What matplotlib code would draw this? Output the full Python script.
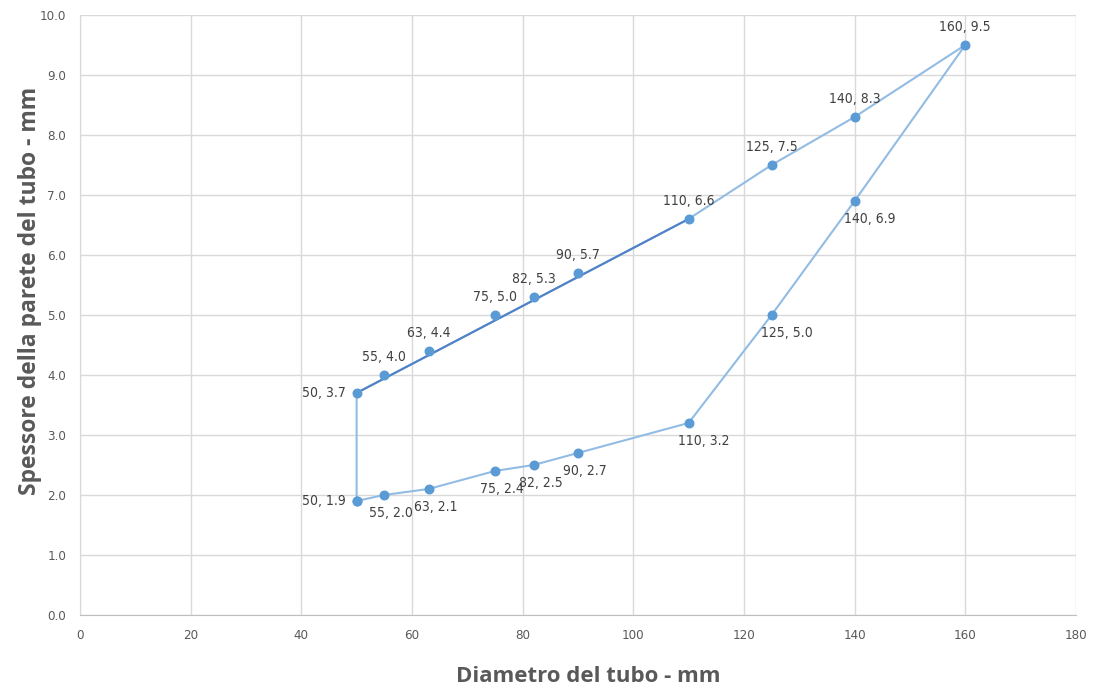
import matplotlib
matplotlib.use("Agg")
import matplotlib.pyplot as plt

# loop through the points: lower curve, then upper curve back to the start
loop_x = [50, 55, 63, 75, 82, 90, 110, 125, 140, 160, 140, 125, 110, 50, 50]
loop_y = [1.9, 2.0, 2.1, 2.4, 2.5, 2.7, 3.2, 5.0, 6.9, 9.5, 8.3, 7.5, 6.6, 3.7, 1.9]

# upper points sitting on the straight segment 50 -> 110
upper_x = [55, 63, 75, 82, 90]
upper_y = [4.0, 4.4, 5.0, 5.3, 5.7]

# labelled points and where the label sits
lab_x = [160, 140, 125, 110, 90, 82, 75, 63, 55, 50,
         50, 55, 63, 75, 82, 90, 110, 125, 140]
lab_y = [9.5, 8.3, 7.5, 6.6, 5.7, 5.3, 5.0, 4.4, 4.0, 3.7,
         1.9, 2.0, 2.1, 2.4, 2.5, 2.7, 3.2, 5.0, 6.9]
lab_pos = ["above"] * 9 + ["left", "left"] + ["below"] * 8

xticks = list(range(0, 181, 20))
yticks = [i * 1.0 for i in range(11)]

LINE = "#92BCE3"
MARK = "#5B9BD5"
DARK = "#4F81C7"
GREY = "#595959"

fig = plt.figure(figsize=(10.94, 6.93), dpi=100)
ax = fig.add_axes([0.0731, 0.1126, 0.9104, 0.8658])

ax.plot(loop_x, loop_y, color=LINE, lw=1.5, zorder=2)
ax.plot([loop_x[13], loop_x[12]], [loop_y[13], loop_y[12]], color=DARK, lw=1.5, zorder=3)
ax.scatter(loop_x, loop_y, s=38, color=MARK, zorder=4)
ax.scatter(upper_x, upper_y, s=38, color=MARK, zorder=4)

offsets = {"above": (0, 8, "center", "bottom"),
           "below": (5, -8, "center", "top"),
           "left": (-8, 0, "right", "center")}
for x, y, p in zip(lab_x, lab_y, lab_pos):
    dx, dy, ha, va = offsets[p]
    if p == "below" and x >= 110:
        dx = 11
    ax.annotate(f"{x}, {y:.1f}", (x, y), xytext=(dx, dy), textcoords="offset points",
                ha=ha, va=va, fontsize=10, color="#404040", family="DejaVu Sans",
                fontstretch="condensed")

ax.set_xlim(0, 180)
ax.set_ylim(0, 10)
ax.set_xticks(xticks)
ax.set_yticks(yticks)
ax.set_yticklabels([f"{t:.1f}" for t in yticks])
ax.tick_params(length=0, labelsize=9.5, labelcolor=GREY, pad=10)
for lbl in ax.get_xticklabels() + ax.get_yticklabels():
    lbl.set_fontstretch("condensed")
ax.grid(True, color="#D9D9D9", lw=1)
ax.set_axisbelow(True)
for side in ["top", "right"]:
    ax.spines[side].set_visible(False)
ax.spines["left"].set_color("#D9D9D9")
ax.spines["bottom"].set_color("#BFBFBF")

ax.set_xlabel("Diametro del tubo - mm", fontsize=16, fontweight="bold", color=GREY,
              family="Open Sans")
ax.set_ylabel("Spessore della parete del tubo - mm", fontsize=16.5, fontweight="bold",
              color=GREY, family="Open Sans")
ax.xaxis.set_label_coords(0.51, -0.085)
ax.yaxis.set_label_coords(-0.038, 0.54)

fig.savefig("out.png", dpi=100)
